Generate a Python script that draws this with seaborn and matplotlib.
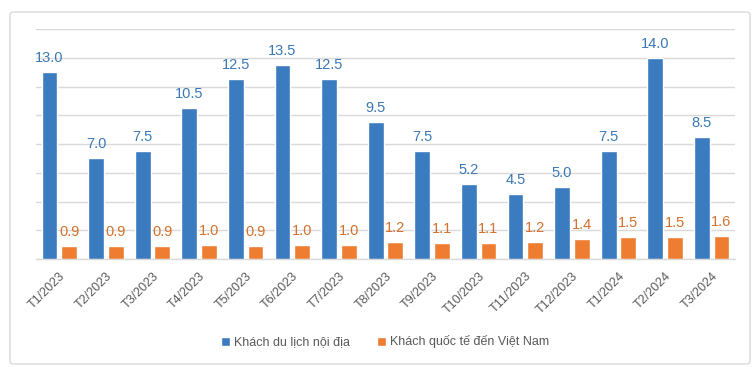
import matplotlib
matplotlib.use("Agg")
import matplotlib.pyplot as plt
from matplotlib.patches import FancyBboxPatch
import seaborn as sns
import pandas as pd

# Data (triệu lượt khách)
months = ["T1/2023", "T2/2023", "T3/2023", "T4/2023", "T5/2023", "T6/2023", "T7/2023",
          "T8/2023", "T9/2023", "T10/2023", "T11/2023", "T12/2023", "T1/2024", "T2/2024", "T3/2024"]
domestic = [13.0, 7.0, 7.5, 10.5, 12.5, 13.5, 12.5, 9.5, 7.5, 5.2, 4.5, 5.0, 7.5, 14.0, 8.5]
international = [0.9, 0.9, 0.9, 1.0, 0.9, 1.0, 1.0, 1.2, 1.1, 1.1, 1.2, 1.4, 1.5, 1.5, 1.6]
series_names = ["Khách du lịch nội địa", "Khách quốc tế đến Việt Nam"]

blue = "#3B7BBF"
orange = "#EE7D31"
blue_text = "#3A78B5"
orange_text = "#D4702A"

df = pd.DataFrame({
    "month": months * 2,
    "value": domestic + international,
    "series": [series_names[0]] * len(months) + [series_names[1]] * len(months),
})

sns.set_theme(style="white")
plt.rcParams["font.family"] = ["Liberation Sans Narrow", "Liberation Sans", "DejaVu Sans"]

fig = plt.figure(figsize=(7.54, 3.67), dpi=100)
fig.patch.set_facecolor("white")

# rounded chart frame
frame = FancyBboxPatch((10 / 754, 3 / 367), 740 / 754, 352 / 367,
                       boxstyle="round,pad=0,rounding_size=0.006",
                       transform=fig.transFigure, facecolor="none",
                       edgecolor="#D9D9D9", linewidth=1.0, zorder=-5)
fig.patches.append(frame)

ax = fig.add_axes([36 / 754, 1 - 259 / 367, (735 - 36) / 754, (259 - 29) / 367])
ax.set_facecolor("none")

sns.barplot(data=df, x="month", y="value", hue="series", order=months,
            hue_order=series_names, palette=[blue, orange],
            width=0.84, gap=0.2, saturation=1, ax=ax, legend=True, zorder=3)

ax.set_ylim(0, 16)
ax.set_yticks(range(0, 17, 2))
ax.set_yticklabels([])
ax.tick_params(axis="y", length=0)
ax.grid(axis="y", color="#D9D9D9", linewidth=1.0, zorder=0)
ax.set_axisbelow(True)
ax.set_xlim(-0.5, len(months) - 0.5)
for s in ["top", "right", "left"]:
    ax.spines[s].set_visible(False)
ax.spines["bottom"].set_color("#D9D9D9")
ax.spines["bottom"].set_linewidth(1.0)
ax.set_xlabel("")
ax.set_ylabel("")

ax.tick_params(axis="x", length=0, pad=8, labelsize=9, labelcolor="#595959")
plt.setp(ax.get_xticklabels(), rotation=45, ha="right", rotation_mode="anchor")

# value labels
for cont, color in zip(ax.containers, [blue_text, orange_text]):
    ax.bar_label(cont, fmt="%.1f", padding=5, color=color, fontsize=10.5,
                 family=["Liberation Sans", "DejaVu Sans"])

handles, labels = ax.get_legend_handles_labels()
ax.get_legend().remove()
fig.legend(handles, labels, loc="center", bbox_to_anchor=(385 / 754, 1 - 342 / 367),
           ncol=2, frameon=False, fontsize=9, labelcolor="#595959",
           handlelength=0.7, handleheight=0.7, handletextpad=0.3, columnspacing=2.2)

fig.savefig("out.png", dpi=100, facecolor="white")
